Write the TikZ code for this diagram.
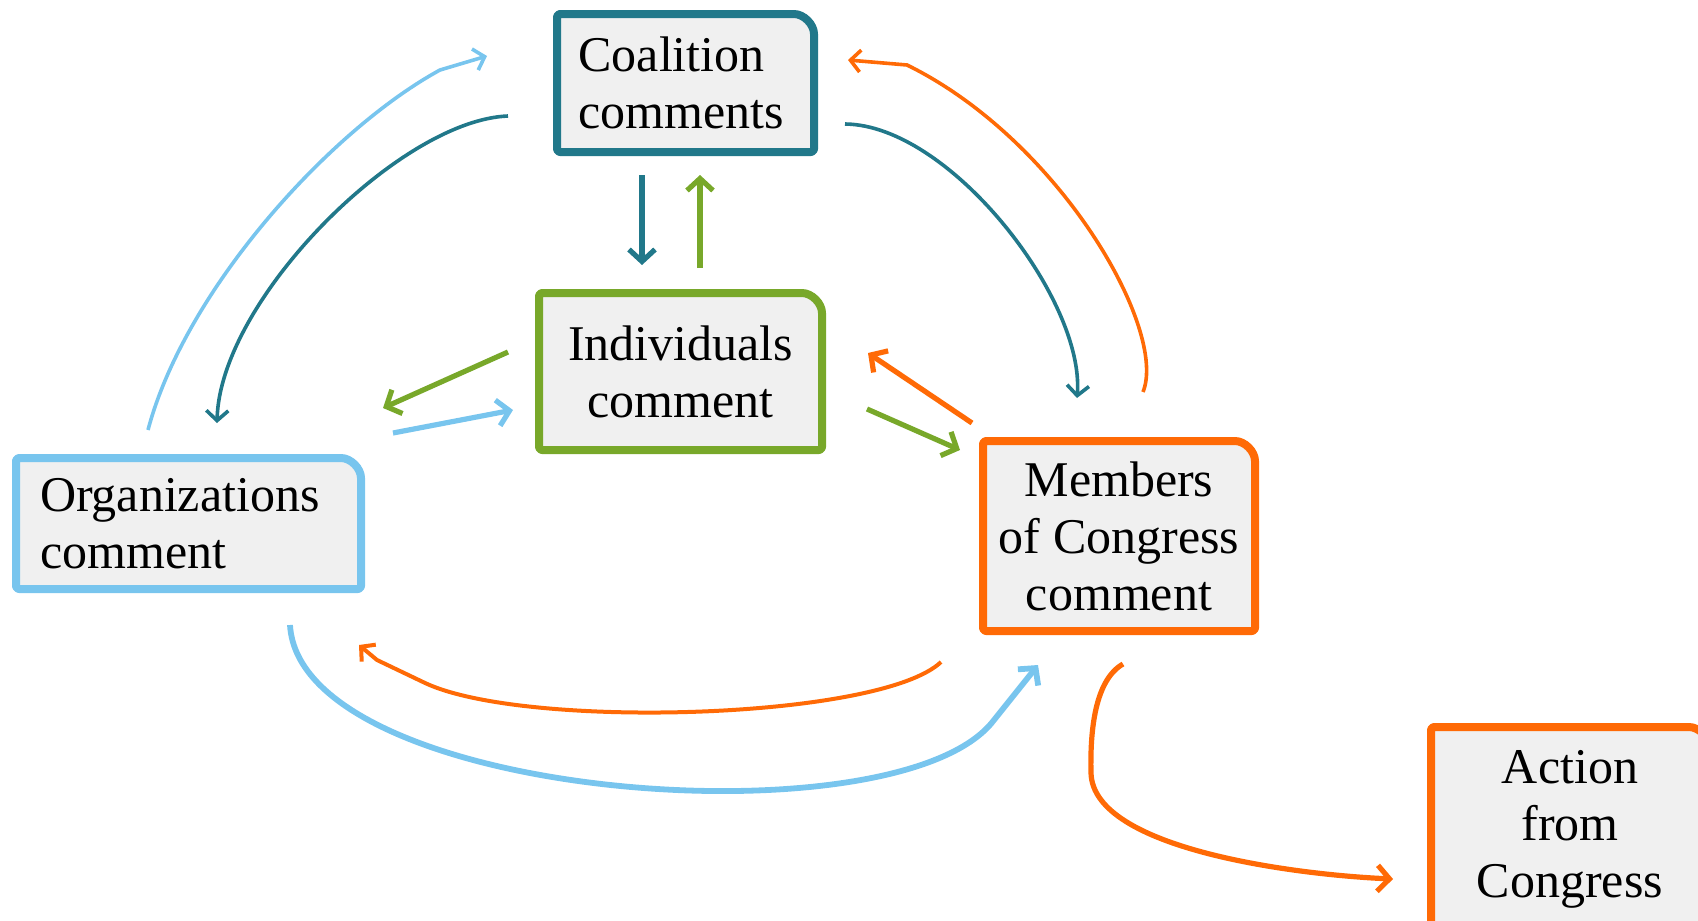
\documentclass[tikz,border=0pt]{standalone}
\usepackage{fontspec}
\setmainfont{Liberation Serif}
\usetikzlibrary{arrows.meta,backgrounds}
\definecolor{coalteal}{HTML}{21788A}
\definecolor{orgblue}{HTML}{78C5EE}
\definecolor{indgreen}{HTML}{78A82A}
\definecolor{memorange}{HTML}{FF6A06}
\definecolor{cardgrey}{HTML}{F0F0F0}
\begin{document}
\begin{tikzpicture}[x=0.5pt,y=-0.5pt,
    card/.style={inner sep=0pt,outer sep=0pt,font=\fontsize{25}{28.5}\selectfont},
    cardline/.style={line width=4pt,fill=cardgrey,rounded corners=1.5pt,line join=round},
    thinarr/.style={line width=1.8pt,-{Straight Barb[length=5pt,width=11pt]}},
    thickarr/.style={line width=2.6pt,-{Straight Barb[length=6pt,width=13pt]}}]
\useasboundingbox (0,0) rectangle (1698,921);
% boxes
\node[card,text width=107pt,inner xsep=10.75pt,minimum height=69pt,align=left] (coal) at (685.5,83) {Coalition\\comments};
\node[card,minimum width=141.5pt,minimum height=78.5pt,align=center] (ind) at (680.5,371.5) {Individuals\\comment};
\node[card,text width=148.5pt,inner xsep=12pt,minimum height=65.5pt,align=left] (org) at (188.5,523.5) {Organizations\\comment};
\node[card,minimum width=136pt,minimum height=95pt,align=center] (mem) at (1119,536) {Members\\of Congress\\comment};
\node[card,minimum width=139pt,minimum height=102pt,align=center] (act) at (1570,829) {Action\\from\\Congress};
\begin{scope}[on background layer]
\foreach \n/\c in {coal/coalteal,ind/indgreen,org/orgblue,mem/memorange,act/memorange}
  \draw[cardline,draw=\c] (\n.south west) -- (\n.north west) -- ([xshift=-11.5pt]\n.north east)
    arc[start angle=90,end angle=0,radius=11.5pt] -- (\n.south east) -- cycle;
\end{scope}
% outer loop
\draw[thinarr,orgblue] ([shift={(-40.5,-28)}]org.north) .. controls +(37,-140) and +(-110,60) .. ([shift={(-117,-13)}]coal.west) -- ([shift={(-70,-27)}]coal.west);
\draw[thinarr,coalteal] ([shift={(-49,33)}]coal.west) .. controls +(-108,4) and +(3,-123) .. ([shift={(28.5,-35)}]org.north);
\draw[thinarr,coalteal] ([shift={(31,41)}]coal.east) .. controls +(105,1) and +(8,-98) .. ([shift={(-42,-43)}]mem.north);
\draw[thinarr,memorange] ([shift={(24,-49)}]mem.north) .. controls +(25,-62) and +(153,75) .. ([shift={(93,-18)}]coal.east) -- ([shift={(34,-23)}]coal.east);
\draw[line width=2pt,-{Straight Barb[length=5pt,width=11pt]},memorange] ([shift={(-42,31)}]mem.south west) .. controls +(-61,58) and +(97,48) .. ([shift={(62,93)}]org.south east) -- ([shift={(16,71)}]org.south east) -- ([shift={(-2,56)}]org.south east);
\draw[thickarr,line width=2.9pt,orgblue] ([shift={(101.5,36)}]org.south) .. controls +(10,175) and +(-94,125) .. ([shift={(11,89)}]mem.south west) -- ([shift={(55,34)}]mem.south west);
% inner arrows
\draw[thickarr,coalteal] ([shift={(-43.5,23)}]coal.south) -- ([shift={(-38.5,-28)}]ind.north);
\draw[thickarr,indgreen] ([shift={(19.5,-25)}]ind.north) -- ([shift={(14.5,23)}]coal.south);
\draw[thickarr,indgreen] ([shift={(-31,-19.5)}]ind.west) -- ([shift={(22,-50)}]org.north east);
\draw[thickarr,orgblue] ([shift={(32,-25)}]org.north east) -- ([shift={(-26,38.5)}]ind.west);
\draw[thickarr,memorange] ([shift={(-11,-18)}]mem.north west) -- ([shift={(46,-18.5)}]ind.east);
\draw[thickarr,indgreen] ([shift={(45,37.5)}]ind.east) -- ([shift={(-23,9)}]mem.north west);
% to action
\draw[thickarr,memorange] ([shift={(4,33)}]mem.south) .. controls +(-28,16) and +(-1,-43) .. ([shift={(-28,142)}]mem.south) .. controls +(2,77) and +(-93,-4) .. ([shift={(-38,50)}]act.west);
\end{tikzpicture}
\end{document}
